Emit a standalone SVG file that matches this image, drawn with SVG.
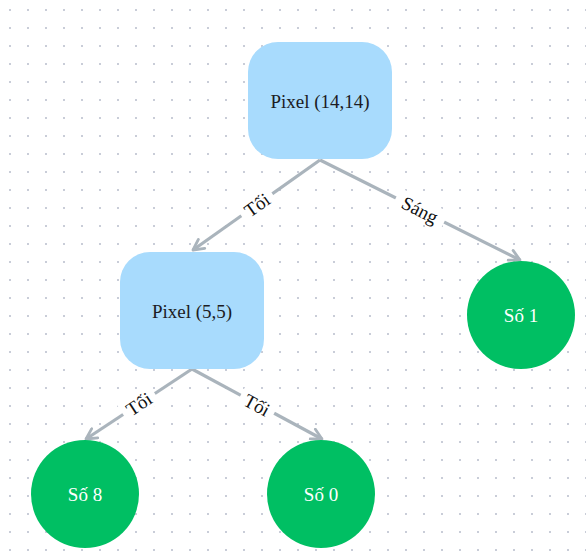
<svg xmlns="http://www.w3.org/2000/svg" width="586" height="557" viewBox="0 0 586 557">
  <defs>
    <pattern id="dots" x="0" y="0" width="18" height="18" patternUnits="userSpaceOnUse">
      <rect x="9" y="9" width="2" height="2" fill="#c9cdd8"/>
    </pattern>
    <marker id="arrow" viewBox="0 0 14 14" refX="12" refY="7" markerWidth="14" markerHeight="14" markerUnits="userSpaceOnUse" orient="auto">
      <path d="M1.5,1.5 L12,7 L1.5,12.5" fill="none" stroke="#aab4bc" stroke-width="2.8" stroke-linecap="round" stroke-linejoin="round"/>
    </marker>
    <style>
      .edge { fill: none; stroke: #aab4bc; stroke-width: 3.2; marker-end: url(#arrow); }
      .lblbg { fill: #ffffff; }
      .lbl { font-family: "Liberation Serif", "DejaVu Serif", serif; font-size: 19px; fill: #111111; text-anchor: middle; dominant-baseline: central; }
      .box { fill: #a8dbfd; }
      .leaf { fill: #00bf63; }
      .boxtxt { font-family: "Liberation Serif", "DejaVu Serif", serif; font-size: 19px; fill: #1c1c24; text-anchor: middle; dominant-baseline: central; }
      .leaftxt { font-family: "Liberation Serif", "DejaVu Serif", serif; font-size: 19px; fill: #ffffff; text-anchor: middle; dominant-baseline: central; }
    </style>
  </defs>

  <rect width="586" height="557" fill="#ffffff"/>
  <rect width="586" height="557" fill="url(#dots)"/>

  <!-- connectors with their rotated labels -->
  <g id="connectors">
    <line class="edge" x1="320" y1="160" x2="193" y2="250"/>
    <line class="edge" x1="320" y1="160" x2="520" y2="260"/>
    <line class="edge" x1="192" y1="369" x2="86" y2="439"/>
    <line class="edge" x1="192" y1="369" x2="322" y2="439"/>

    <g transform="translate(257,205) rotate(-35.3)">
      <rect class="lblbg" x="-19" y="-11" width="38" height="22"/>
      <text class="lbl" x="0" y="0">Tối</text>
    </g>
    <g transform="translate(420,210) rotate(26.7)">
      <rect class="lblbg" x="-27" y="-11" width="54" height="22"/>
      <text class="lbl" x="0" y="0">Sáng</text>
    </g>
    <g transform="translate(139,404) rotate(-33.6)">
      <rect class="lblbg" x="-19" y="-11" width="38" height="22"/>
      <text class="lbl" x="0" y="0">Tối</text>
    </g>
    <g transform="translate(257,405) rotate(28.6)">
      <rect class="lblbg" x="-19" y="-11" width="38" height="22"/>
      <text class="lbl" x="0" y="0">Tối</text>
    </g>
  </g>

  <g id="node-pixel-14-14">
    <rect class="box" x="248" y="42" width="144" height="117" rx="30" ry="30"/>
    <text class="boxtxt" x="320" y="101">Pixel (14,14)</text>
  </g>

  <g id="node-pixel-5-5">
    <rect class="box" x="120" y="252" width="144" height="117" rx="30" ry="30"/>
    <text class="boxtxt" x="192" y="311">Pixel (5,5)</text>
  </g>

  <g id="node-so-1">
    <circle class="leaf" cx="521" cy="315" r="54"/>
    <text class="leaftxt" x="521" y="315">Số 1</text>
  </g>

  <g id="node-so-8">
    <circle class="leaf" cx="85" cy="494" r="54"/>
    <text class="leaftxt" x="85" y="494">Số 8</text>
  </g>

  <g id="node-so-0">
    <circle class="leaf" cx="321" cy="494" r="54"/>
    <text class="leaftxt" x="321" y="494">Số 0</text>
  </g>
</svg>
